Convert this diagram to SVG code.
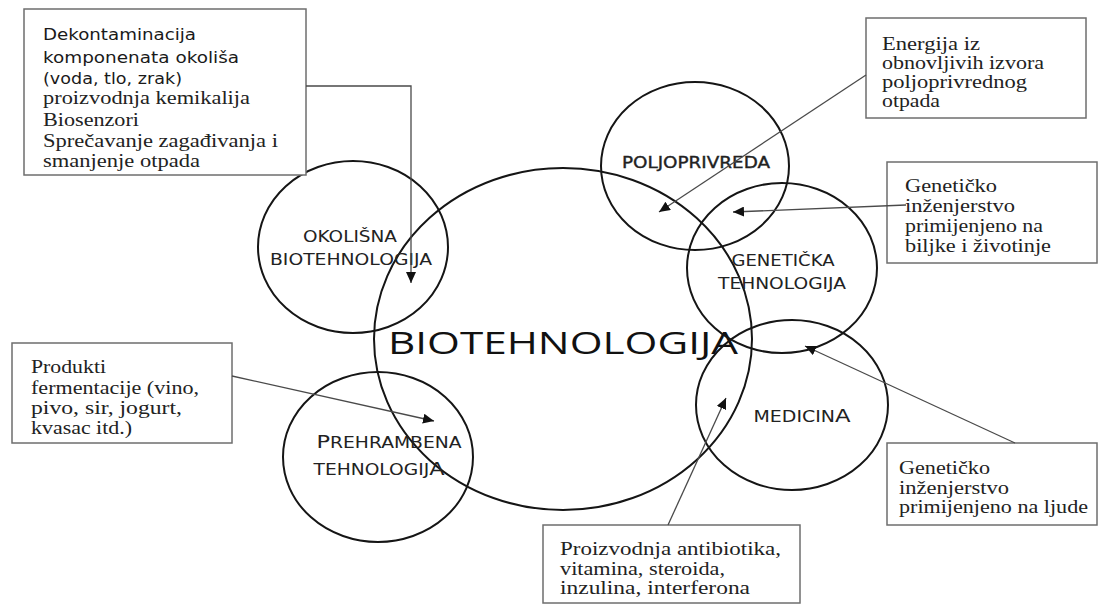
<svg xmlns="http://www.w3.org/2000/svg" width="1103" height="606" viewBox="0 0 1103 606">
<style>
.bg{fill:#ffffff}
.circ{fill:none;stroke:#151515;stroke-width:2}
.box{fill:#ffffff;stroke:#6e6e6e;stroke-width:1.5}
.conn{fill:none;stroke:#4a4a4a;stroke-width:1.3}
.serif{font-family:"Liberation Serif","Times New Roman",serif;font-size:18px;fill:#222}
.sans{font-family:"DejaVu Sans","Liberation Sans",sans-serif;font-size:15px;fill:#1a1a1a}
.lab{font-family:"DejaVu Sans","Liberation Sans",sans-serif;font-size:15px;fill:#222;text-anchor:middle}
.big{font-family:"Open Sans","DejaVu Sans",sans-serif;font-size:31px;fill:#111;text-anchor:middle}
</style>
<defs>
<marker id="arr" markerUnits="userSpaceOnUse" markerWidth="12" markerHeight="10" refX="11" refY="5" orient="auto">
<path d="M0,0 L11,5 L0,10 z" fill="#111"/>
</marker>
</defs>
<rect class="bg" x="0" y="0" width="1103" height="606"/>

<g id="biotehnologija">
<ellipse class="circ" cx="563" cy="339" rx="189" ry="171"/>
<text class="big" x="563" y="354" textLength="350" lengthAdjust="spacingAndGlyphs">BIOTEHNOLOGIJA</text>
</g>

<g id="okolisna">
<ellipse class="circ" cx="353" cy="247" rx="95" ry="86"/>
<text class="lab" x="350" y="242" textLength="94" lengthAdjust="spacingAndGlyphs">OKOLIŠNA</text>
<text class="lab" x="351" y="265" textLength="162" lengthAdjust="spacingAndGlyphs">BIOTEHNOLOGIJA</text>
</g>

<g id="poljoprivreda">
<ellipse class="circ" cx="695" cy="166" rx="94" ry="84"/>
<text class="lab" x="696" y="168" textLength="148" lengthAdjust="spacingAndGlyphs" stroke="#222" stroke-width="0.35">POLJOPRIVREDA</text>
</g>

<g id="geneticka">
<ellipse class="circ" cx="782" cy="268" rx="95" ry="85"/>
<text class="lab" x="783" y="266" textLength="103" lengthAdjust="spacingAndGlyphs">GENETIČKA</text>
<text class="lab" x="782" y="289" textLength="128" lengthAdjust="spacingAndGlyphs">TEHNOLOGIJA</text>
</g>

<g id="medicina">
<ellipse class="circ" cx="792" cy="405" rx="96" ry="85"/>
<text class="lab" x="802" y="422" textLength="97" lengthAdjust="spacingAndGlyphs">MEDICIN<tspan font-size="18">A</tspan></text>
</g>

<g id="prehrambena">
<ellipse class="circ" cx="378" cy="457" rx="95" ry="85"/>
<text class="lab" x="389" y="448" textLength="145" lengthAdjust="spacingAndGlyphs"><tspan font-size="18">P</tspan>REHRAMBENA</text>
<text class="lab" x="379" y="475" textLength="131" lengthAdjust="spacingAndGlyphs">TEHNOLOGIJ<tspan font-size="18">A</tspan></text>
</g>

<g id="box-okolis">
<rect class="box" x="24" y="9" width="282" height="166"/>
<text class="sans" x="43" y="40" textLength="153" lengthAdjust="spacingAndGlyphs">Dekontaminacija</text>
<text class="sans" x="43" y="63" textLength="196" lengthAdjust="spacingAndGlyphs">komponenata okoliša</text>
<text class="sans" x="43" y="84" textLength="139" lengthAdjust="spacingAndGlyphs">(voda, tlo, zrak)</text>
<text class="serif" x="43" y="104" textLength="207" lengthAdjust="spacingAndGlyphs">proizvodnja kemikalija</text>
<text class="serif" x="43" y="126" textLength="96" lengthAdjust="spacingAndGlyphs">Biosenzori</text>
<text class="serif" x="43" y="147" textLength="235" lengthAdjust="spacingAndGlyphs">Sprečavanje zagađivanja i</text>
<text class="serif" x="43" y="167" textLength="157" lengthAdjust="spacingAndGlyphs">smanjenje otpada</text>
</g>

<g id="box-energija">
<rect class="box" x="866" y="18" width="220" height="100"/>
<text class="serif" x="882" y="50" textLength="98" lengthAdjust="spacingAndGlyphs">Energija iz</text>
<text class="serif" x="882" y="69" textLength="162" lengthAdjust="spacingAndGlyphs">obnovljivih izvora</text>
<text class="serif" x="882" y="88" textLength="145" lengthAdjust="spacingAndGlyphs">poljoprivrednog</text>
<text class="serif" x="882" y="107" textLength="58" lengthAdjust="spacingAndGlyphs">otpada</text>
</g>

<g id="box-biljke">
<rect class="box" x="887" y="162" width="210" height="101"/>
<text class="serif" x="905" y="192" textLength="92" lengthAdjust="spacingAndGlyphs">Genetičko</text>
<text class="serif" x="905" y="212" textLength="110" lengthAdjust="spacingAndGlyphs">inženjerstvo</text>
<text class="serif" x="905" y="232" textLength="138" lengthAdjust="spacingAndGlyphs">primijenjeno na</text>
<text class="serif" x="905" y="252" textLength="146" lengthAdjust="spacingAndGlyphs">biljke i životinje</text>
</g>

<g id="box-ljude">
<rect class="box" x="887" y="443" width="210" height="82"/>
<text class="serif" x="899" y="474" textLength="91" lengthAdjust="spacingAndGlyphs">Genetičko</text>
<text class="serif" x="899" y="494" textLength="110" lengthAdjust="spacingAndGlyphs">inženjerstvo</text>
<text class="serif" x="899" y="513" textLength="189" lengthAdjust="spacingAndGlyphs">primijenjeno na ljude</text>
</g>

<g id="box-antibiotici">
<rect class="box" x="543" y="525" width="257" height="78"/>
<text class="serif" x="560" y="555" textLength="221" lengthAdjust="spacingAndGlyphs">Proizvodnja antibiotika,</text>
<text class="serif" x="560" y="575" textLength="165" lengthAdjust="spacingAndGlyphs">vitamina, steroida,</text>
<text class="serif" x="560" y="594" textLength="190" lengthAdjust="spacingAndGlyphs">inzulina, interferona</text>
</g>

<g id="box-fermentacija">
<rect class="box" x="12" y="343" width="220" height="100"/>
<text class="serif" x="31" y="373" textLength="75" lengthAdjust="spacingAndGlyphs">Produkti</text>
<text class="serif" x="31" y="394" textLength="168" lengthAdjust="spacingAndGlyphs">fermentacije (vino,</text>
<text class="serif" x="31" y="414" textLength="151" lengthAdjust="spacingAndGlyphs">pivo, sir, jogurt,</text>
<text class="serif" x="31" y="434" textLength="101" lengthAdjust="spacingAndGlyphs">kvasac itd.)</text>
</g>

<g id="connectors">
<polyline class="conn" points="306,86 411,86 411,283" marker-end="url(#arr)"/>
<line class="conn" x1="866" y1="75" x2="659" y2="212" marker-end="url(#arr)"/>
<line class="conn" x1="906" y1="205" x2="733" y2="212" marker-end="url(#arr)"/>
<line class="conn" x1="1015" y1="443" x2="805" y2="346" marker-end="url(#arr)"/>
<line class="conn" x1="668" y1="525" x2="726" y2="398" marker-end="url(#arr)"/>
<line class="conn" x1="232" y1="376" x2="434" y2="421" marker-end="url(#arr)"/>
</g>
</svg>
